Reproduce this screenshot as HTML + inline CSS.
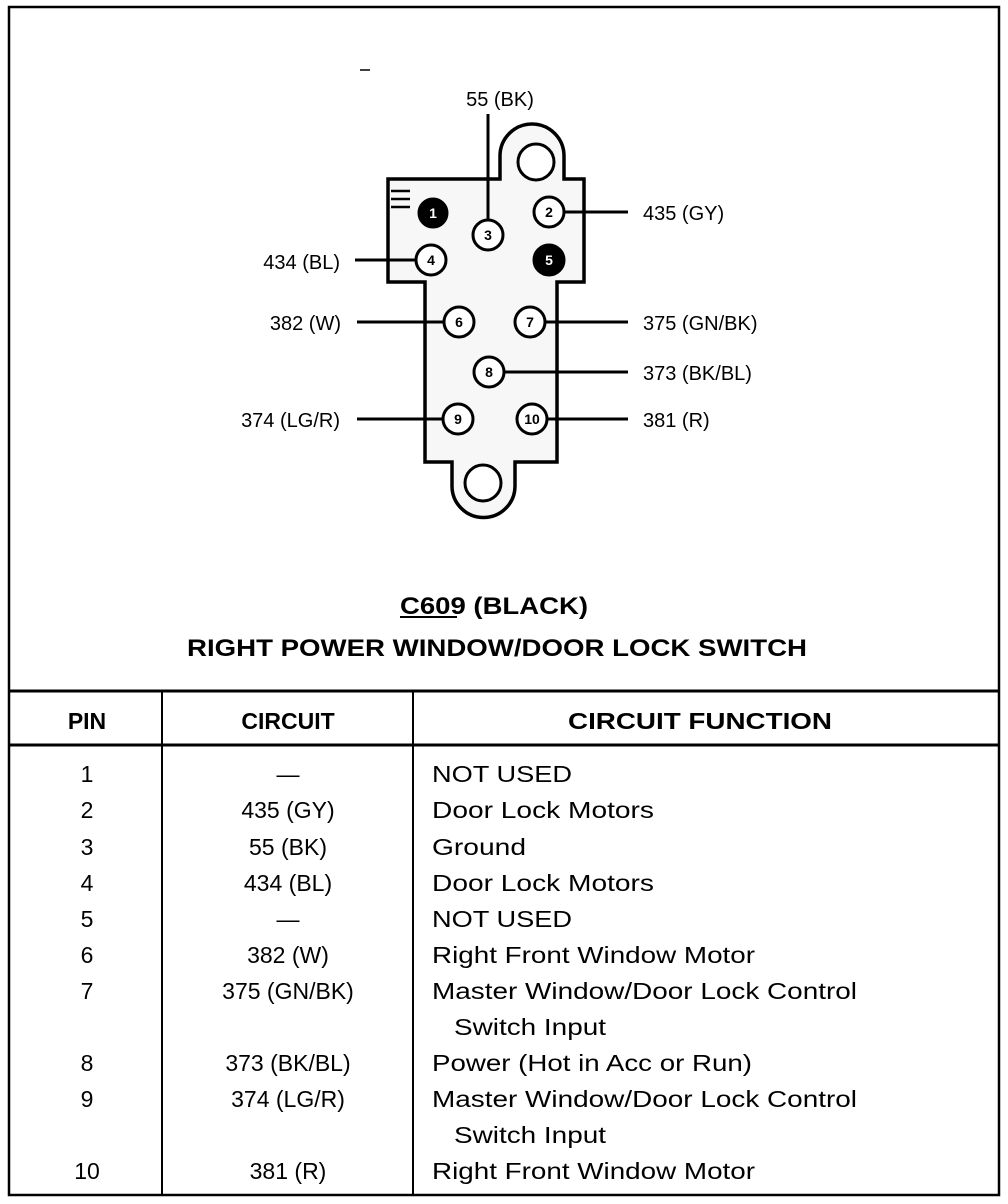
<!DOCTYPE html>
<html><head><meta charset="utf-8"><style>html,body{margin:0;padding:0;background:#fff}svg{display:block}</style></head>
<body>
<svg width="1008" height="1204" viewBox="0 0 1008 1204" xmlns="http://www.w3.org/2000/svg" font-family="Liberation Sans, Arial, sans-serif">
<rect x="9" y="7" width="990" height="1188" fill="none" stroke="#000" stroke-width="2.5"/>
<line x1="360" y1="70" x2="370" y2="70" stroke="#000" stroke-width="1.5"/>
<path d="M388,179 L500,179 L500,156 A32,32 0 0 1 564,156 L564,179 L584,179 L584,282 L557,282 L557,462 L515,462 L515,486 A31.5,31.5 0 0 1 452,486 L452,462 L425,462 L425,282 L388,282 Z" fill="#f7f7f7" stroke="#000" stroke-width="3.5" stroke-linejoin="miter"/>
<circle cx="536" cy="162" r="18" fill="#fff" stroke="#000" stroke-width="3"/>
<circle cx="483" cy="483" r="18" fill="#fff" stroke="#000" stroke-width="3"/>
<g stroke="#000" stroke-width="2.5"><line x1="391" y1="191" x2="410" y2="191"/><line x1="391" y1="199" x2="410" y2="199"/><line x1="391" y1="207" x2="410" y2="207"/></g>
<g stroke="#000" stroke-width="3">
<line x1="488" y1="114" x2="488" y2="220"/>
<line x1="564" y1="212" x2="628" y2="212"/>
<line x1="355" y1="260" x2="416" y2="260"/>
<line x1="357" y1="322" x2="444" y2="322"/>
<line x1="545" y1="322" x2="628" y2="322"/>
<line x1="504" y1="372" x2="628" y2="372"/>
<line x1="357" y1="419" x2="443" y2="419"/>
<line x1="547" y1="419" x2="628" y2="419"/>
</g>
<g stroke="#000" stroke-width="3" fill="#fff">
<circle cx="433" cy="213" r="14" fill="#000"/>
<circle cx="549" cy="212" r="15"/>
<circle cx="488" cy="235" r="15"/>
<circle cx="431" cy="260" r="15"/>
<circle cx="549" cy="260" r="15" fill="#000"/>
<circle cx="459" cy="322" r="15"/>
<circle cx="530" cy="322" r="15"/>
<circle cx="489" cy="372" r="15"/>
<circle cx="458" cy="419" r="15"/>
<circle cx="532" cy="419" r="15"/>
</g>
<g font-size="14" font-weight="bold" text-anchor="middle">
<text x="433" y="218" fill="#fff">1</text>
<text x="549" y="217">2</text>
<text x="488" y="240">3</text>
<text x="431" y="265">4</text>
<text x="549" y="265" fill="#fff">5</text>
<text x="459" y="327">6</text>
<text x="530" y="327">7</text>
<text x="489" y="377">8</text>
<text x="458" y="424">9</text>
<text x="532" y="424">10</text>
</g>
<g font-size="20">
<text x="500" y="106" text-anchor="middle">55 (BK)</text>
<text x="643" y="220">435 (GY)</text>
<text x="340" y="269" text-anchor="end">434 (BL)</text>
<text x="341" y="330" text-anchor="end">382 (W)</text>
<text x="643" y="330">375 (GN/BK)</text>
<text x="643" y="380">373 (BK/BL)</text>
<text x="340" y="427" text-anchor="end">374 (LG/R)</text>
<text x="643" y="427">381 (R)</text>
</g>
<g font-size="24" font-weight="bold">
<text x="400" y="614" textLength="188" lengthAdjust="spacingAndGlyphs">C609 (BLACK)</text>
<text x="497" y="656" text-anchor="middle" textLength="620" lengthAdjust="spacingAndGlyphs">RIGHT POWER WINDOW/DOOR LOCK SWITCH</text>
</g>
<line x1="400" y1="617" x2="457" y2="617" stroke="#000" stroke-width="2"/>
<g stroke="#000">
<line x1="9" y1="691" x2="999" y2="691" stroke-width="3"/>
<line x1="9" y1="745" x2="999" y2="745" stroke-width="3"/>
<line x1="162" y1="691" x2="162" y2="1195" stroke-width="2"/>
<line x1="413" y1="691" x2="413" y2="1195" stroke-width="2"/>
</g>
<g font-size="23" font-weight="bold" text-anchor="middle">
<text x="87" y="729">PIN</text>
<text x="288" y="729">CIRCUIT</text>
<text x="700" y="729" textLength="264" lengthAdjust="spacingAndGlyphs">CIRCUIT FUNCTION</text>
</g>
<g font-size="23">
<g text-anchor="middle">
<text x="87" y="782">1</text><text x="288" y="782">—</text>
<text x="87" y="818">2</text><text x="288" y="818">435 (GY)</text>
<text x="87" y="855">3</text><text x="288" y="855">55 (BK)</text>
<text x="87" y="891">4</text><text x="288" y="891">434 (BL)</text>
<text x="87" y="927">5</text><text x="288" y="927">—</text>
<text x="87" y="963">6</text><text x="288" y="963">382 (W)</text>
<text x="87" y="999">7</text><text x="288" y="999">375 (GN/BK)</text>
<text x="87" y="1071">8</text><text x="288" y="1071">373 (BK/BL)</text>
<text x="87" y="1107">9</text><text x="288" y="1107">374 (LG/R)</text>
<text x="87" y="1179">10</text><text x="288" y="1179">381 (R)</text>
</g>
<text x="432" y="782" textLength="140" lengthAdjust="spacingAndGlyphs">NOT USED</text>
<text x="432" y="818" textLength="222" lengthAdjust="spacingAndGlyphs">Door Lock Motors</text>
<text x="432" y="855" textLength="94" lengthAdjust="spacingAndGlyphs">Ground</text>
<text x="432" y="891" textLength="222" lengthAdjust="spacingAndGlyphs">Door Lock Motors</text>
<text x="432" y="927" textLength="140" lengthAdjust="spacingAndGlyphs">NOT USED</text>
<text x="432" y="963" textLength="323" lengthAdjust="spacingAndGlyphs">Right Front Window Motor</text>
<text x="432" y="999" textLength="425" lengthAdjust="spacingAndGlyphs">Master Window/Door Lock Control</text>
<text x="454" y="1035" textLength="152" lengthAdjust="spacingAndGlyphs">Switch Input</text>
<text x="432" y="1071" textLength="320" lengthAdjust="spacingAndGlyphs">Power (Hot in Acc or Run)</text>
<text x="432" y="1107" textLength="425" lengthAdjust="spacingAndGlyphs">Master Window/Door Lock Control</text>
<text x="454" y="1143" textLength="152" lengthAdjust="spacingAndGlyphs">Switch Input</text>
<text x="432" y="1179" textLength="323" lengthAdjust="spacingAndGlyphs">Right Front Window Motor</text>
</g>
</svg>
</body></html>
